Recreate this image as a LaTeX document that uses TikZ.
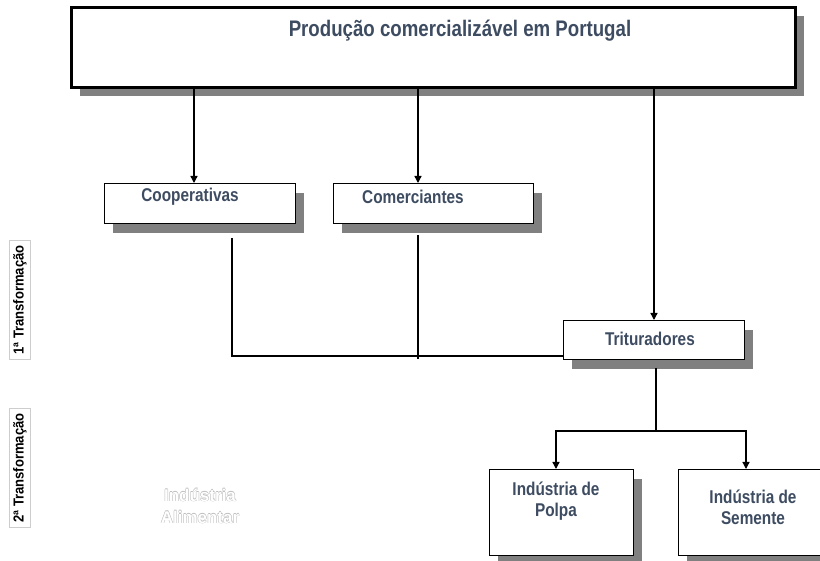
\documentclass[tikz,border=0pt]{standalone}
\usepackage{fontspec}
\setmainfont{Liberation Sans}
\newfontfamily\cfont[FakeStretch=0.83]{Liberation Sans}
\newfontfamily\sfont[FakeStretch=0.9]{Liberation Sans}
\usetikzlibrary{arrows.meta,shadows}
\definecolor{txt}{RGB}{62,76,98}
\definecolor{shd}{RGB}{128,128,128}
\definecolor{olgray}{RGB}{190,190,190}
\definecolor{lblbox}{RGB}{205,205,205}
\newcommand\olshift[3]{\makebox[0pt][l]{\hspace*{#1}\raisebox{#2}{\color{olgray}#3}}}
\newcommand\olt[1]{\olshift{0.5pt}{0pt}{#1}\olshift{-0.5pt}{0pt}{#1}\olshift{0pt}{0.5pt}{#1}\olshift{0pt}{-0.5pt}{#1}{\color{white}#1}}
\begin{document}
\begin{tikzpicture}[x=1pt,y=-1pt,
  box/.style={draw, fill=white, line width=1.3pt, rectangle, anchor=north west, inner sep=0pt,
    drop shadow={shadow xshift=8pt, shadow yshift=-9pt, fill=shd, opacity=1}},
  lbl/.style={font=\cfont\bfseries\fontsize{18.5}{21}\selectfont, text=txt, inner sep=0pt, align=center},
  side/.style={font=\sfont\bfseries\fontsize{14.5}{16}\selectfont, rotate=90, draw=lblbox, line width=0.6pt, inner xsep=5pt, inner ysep=4pt},
  conn/.style={line width=1.3pt},
  arr/.style={line width=1.3pt, -{Triangle[length=7pt,width=7pt]}}]
\useasboundingbox (0,0) rectangle (820,561);

% boxes
\node[box, line width=3pt, minimum width=724pt, minimum height=80pt] (top) at (70,6) {};
\node[lbl, font=\cfont\bfseries\fontsize{22.5}{24}\selectfont] (toptxt) at (460,31) {Produção comercializável em Portugal};

\node[box, minimum width=191pt, minimum height=40pt] (coop) at (104,183) {};
\node[lbl] (coopt) at (190,197) {Cooperativas};

\node[box, minimum width=200pt, minimum height=40pt] (com) at (333,183) {};
\node[lbl] (comt) at (413,197) {Comerciantes};

\node[box, minimum width=181pt, minimum height=39pt] (trit) at (563,320) {};
\node[lbl] (tritt) at (650,339) {Trituradores};

\node[box, minimum width=144pt, minimum height=86pt] (polpa) at (489,469) {};
\node[lbl] (polpat) at (556,501) {Indústria de\\Polpa};

\node[box, minimum width=150pt, minimum height=86pt] (sem) at (678,469) {};
\node[lbl] (semt) at (753,507) {Indústria de\\Semente};

% side labels
\node[side] (t1) at (20,300) {1ª Transformação};
\node[side] (t2) at (20,468) {2ª Transformação};

% outlined text
\node[font=\bfseries\fontsize{17}{22}\selectfont, align=center, inner sep=0pt] (ia) at (200,506) {\olt{Indústria}\\\olt{Alimentar}};

% connector coordinates
\coordinate (x1) at (194,0);
\coordinate (x2) at (418,0);
\coordinate (x3) at (654,0);
\coordinate (coopout) at (232,238);
\coordinate (comout) at (418,235);
\coordinate (comend) at (418,359);
\coordinate (trout) at (656,368);
\coordinate (split) at (656,431);
\coordinate (xp) at (556,0);
\coordinate (xs) at (746,0);

\draw[arr] (top.south -| x1) -- (coop.north -| x1);
\draw[arr] (top.south -| x2) -- (com.north -| x2);
\draw[arr] (top.south -| x3) -- (trit.north -| x3);

\draw[conn] (coopout) |- ([yshift=-1pt]trit.south west |- 0,355) coordinate (jn) -- (jn -| trit.west);
\draw[conn] (comout) -- (comend);

\draw[conn] (trout) -- (split);
\draw[arr] (split) -| (polpa.north -| xp);
\draw[arr] (split) -| (sem.north -| xs);
\end{tikzpicture}
\end{document}
